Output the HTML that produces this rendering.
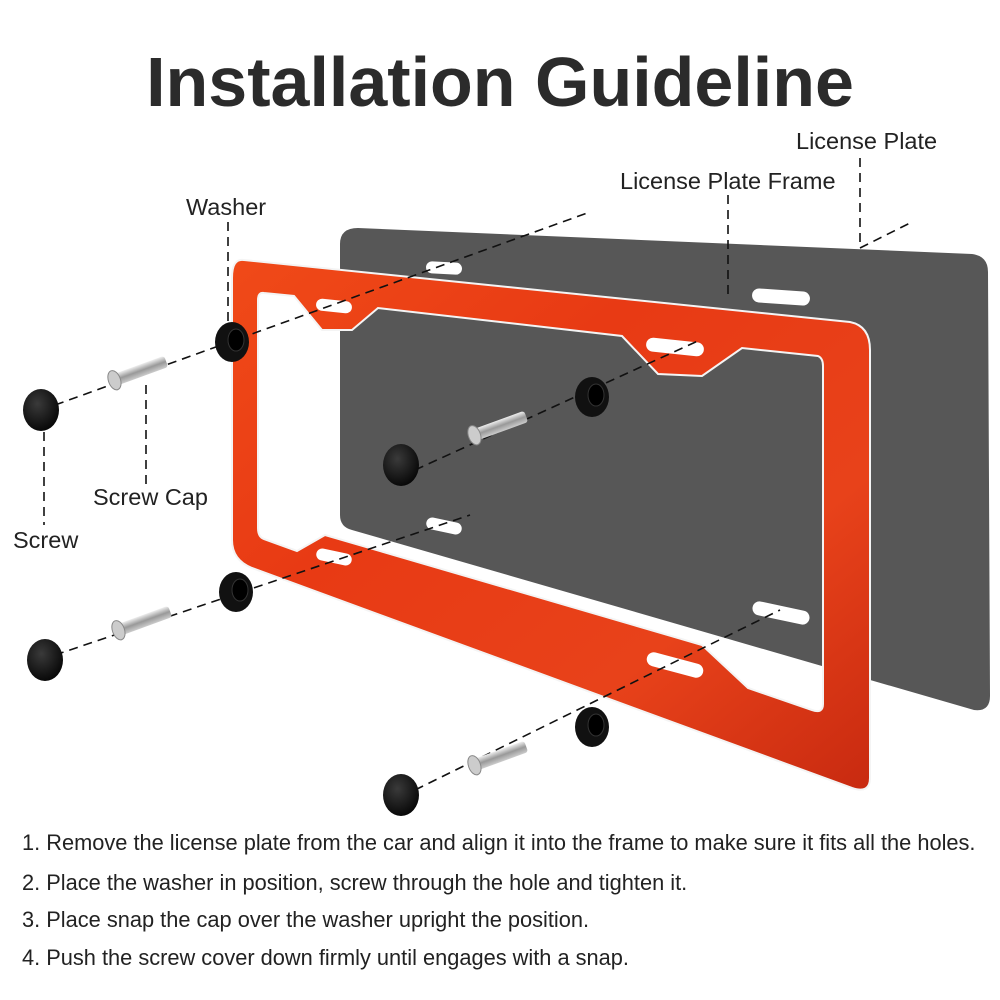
<!DOCTYPE html>
<html><head><meta charset="utf-8"><style>
body{margin:0;background:#fff;width:1000px;height:1000px;overflow:hidden;font-family:"Liberation Sans",sans-serif;color:#222}
.t{position:absolute;white-space:nowrap}
</style></head><body>
<div class="t" style="left:0;width:1000px;text-align:center;top:42px;font-size:70px;font-weight:bold;color:#2b2b2b">Installation Guideline</div>
<svg width="1000" height="1000" style="position:absolute;left:0;top:0">
<defs>
<linearGradient id="g" x1="0" y1="0" x2="1" y2="1">
<stop offset="0" stop-color="#f04a18"/><stop offset="0.35" stop-color="#e83a14"/><stop offset="0.7" stop-color="#e8421a"/><stop offset="1" stop-color="#c82a10"/></linearGradient>
<radialGradient id="cap" cx="0.4" cy="0.35" r="0.7"><stop offset="0" stop-color="#3a3a3a"/><stop offset="1" stop-color="#050505"/></radialGradient>
<linearGradient id="sc" x1="0" y1="0" x2="0" y2="1"><stop offset="0" stop-color="#eee"/><stop offset="0.5" stop-color="#999"/><stop offset="1" stop-color="#ccc"/></linearGradient>
</defs>
<!-- plate -->
<path d="M358,228 L972,254 Q988,256 988,272 L990,696 Q990,712 974,710 L352,530 Q340,527 340,515 L340,244 Q340,228 358,228 Z" fill="#575757"/>
<g fill="#fff"><rect x="426" y="262" width="36" height="12" rx="6" transform="rotate(3 444 268)"/><rect x="752" y="290" width="58" height="14" rx="7" transform="rotate(4 781 297)"/><rect x="426" y="520" width="36" height="12" rx="6" transform="rotate(12 444 526)"/><rect x="752" y="606" width="58" height="14" rx="7" transform="rotate(12 781 613)"/></g>
<!-- frame -->
<path fill-rule="evenodd" fill="url(#g)" stroke="#f4f4f4" stroke-width="2" d="M244,260 L850,322 Q870,326 870,350 L870,778 Q870,794 852,788 L252,568 Q232,560 232,540 L232,278 Q232,258 244,260 Z
M264,293 L294,296 L322,330 L352,330 L378,308 L622,336 L658,374 L702,376 L742,348 L818,356 Q823,358 823,366 L823,704 Q823,714 812,710 L748,688 L702,645 L325,535 L297,551 L264,539 Q258,537 258,528 L258,300 Q258,292 264,293 Z"/>
<g fill="#fff"><rect x="316" y="300" width="36" height="12" rx="6" transform="rotate(6 334 306)"/><rect x="646" y="340" width="58" height="14" rx="7" transform="rotate(6 675 347)"/><rect x="316" y="551" width="36" height="12" rx="6" transform="rotate(12 334 557)"/><rect x="646" y="658" width="58" height="14" rx="7" transform="rotate(15 675 665)"/></g>
<!-- dashed lines -->
<g stroke="#111" stroke-width="1.6" stroke-dasharray="9,6" fill="none">
<line x1="55" y1="405" x2="590" y2="212"/>
<line x1="415" y1="470" x2="700" y2="340"/>
<line x1="55" y1="655" x2="470" y2="515"/>
<line x1="415" y1="790" x2="780" y2="610"/>
<line x1="228" y1="222" x2="228" y2="330"/>
<line x1="146" y1="385" x2="146" y2="485"/>
<line x1="44" y1="432" x2="44" y2="525"/>
<line x1="728" y1="195" x2="728" y2="298"/>
<line x1="860" y1="158" x2="860" y2="248"/>
<line x1="860" y1="248" x2="912" y2="222"/>
</g>
<!-- hardware -->
<g id="hw">
<ellipse cx="41" cy="410" rx="18" ry="21" fill="url(#cap)"/>
<g transform="rotate(-20 137 372)"><rect x="112" y="366" width="56" height="12" rx="3" fill="url(#sc)"/><ellipse cx="113" cy="372" rx="6" ry="10" fill="#ccc" stroke="#888"/></g>
<ellipse cx="232" cy="342" rx="17" ry="20" fill="#111"/><ellipse cx="236" cy="340" rx="8" ry="11" fill="#000" stroke="#333"/>
</g>
<use href="#hw" transform="translate(360,55)"/>
<use href="#hw" transform="translate(4,250)"/>
<use href="#hw" transform="translate(360,385)"/>
</svg>
<div class="t" style="left:186px;top:194px;font-size:23.5px">Washer</div>
<div class="t" style="left:620px;top:168px;font-size:23.5px">License Plate Frame</div>
<div class="t" style="left:796px;top:128px;font-size:23.5px">License Plate</div>
<div class="t" style="left:93px;top:484px;font-size:23.5px">Screw Cap</div>
<div class="t" style="left:13px;top:527px;font-size:23.5px">Screw</div>
<div class="t" style="left:22px;top:830px;font-size:21.8px">1. Remove the license plate from the car and align it into the frame to make sure it fits all the holes.</div>
<div class="t" style="left:22px;top:870px;font-size:21.8px">2. Place the washer in position, screw through the hole and tighten it.</div>
<div class="t" style="left:22px;top:907px;font-size:21.8px">3. Place snap the cap over the washer upright the position.</div>
<div class="t" style="left:22px;top:945px;font-size:21.8px">4. Push the screw cover down firmly until engages with a snap.</div>
</body></html>
